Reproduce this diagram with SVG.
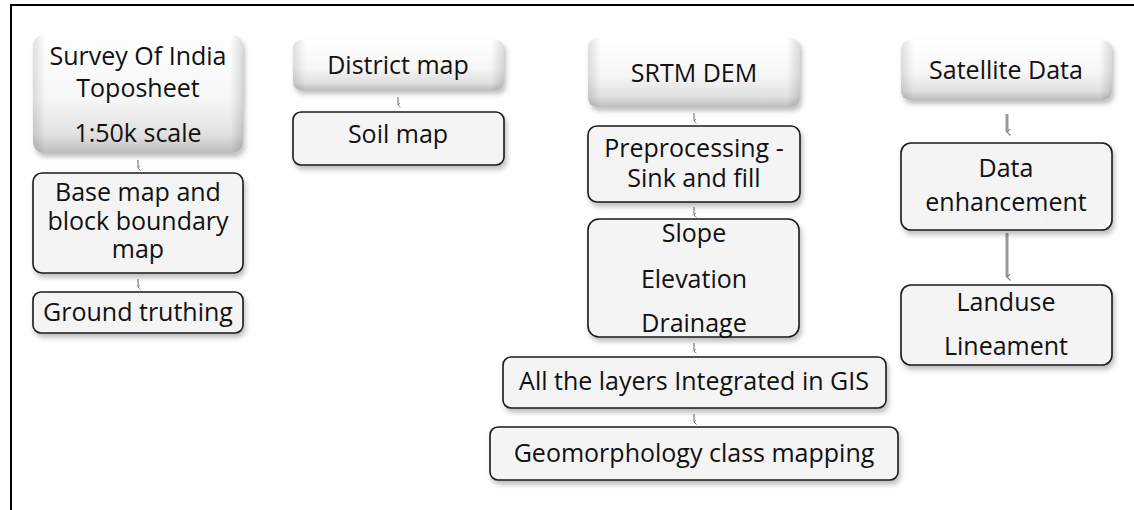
<svg xmlns="http://www.w3.org/2000/svg" width="1134" height="510" viewBox="0 0 1134 510">
<defs>
<linearGradient id="topg" x1="0" y1="0" x2="0" y2="1">
<stop offset="0" stop-color="#ffffff"/>
<stop offset="0.55" stop-color="#f6f6f6"/>
<stop offset="0.85" stop-color="#e0e0e0"/>
<stop offset="1" stop-color="#bdbdbd"/>
</linearGradient>
<linearGradient id="sideg" x1="0" y1="0" x2="1" y2="0">
<stop offset="0" stop-color="#000" stop-opacity="0.12"/>
<stop offset="0.06" stop-color="#000" stop-opacity="0"/>
<stop offset="0.94" stop-color="#000" stop-opacity="0"/>
<stop offset="1" stop-color="#000" stop-opacity="0.14"/>
</linearGradient>
<filter id="sh" x="-10%" y="-10%" width="125%" height="135%">
<feDropShadow dx="2" dy="4" stdDeviation="2.5" flood-color="#000" flood-opacity="0.25"/>
</filter>
<marker id="tip" viewBox="0 0 6 6" refX="3" refY="5" markerWidth="5" markerHeight="5" orient="auto-start-reverse" markerUnits="userSpaceOnUse">
<path d="M0,2 L3,5 L6,2" fill="none" stroke="#8a8a8a" stroke-width="1.2"/>
</marker>
<marker id="tip2" viewBox="0 0 8 8" refX="4" refY="7" markerWidth="7" markerHeight="7" orient="auto-start-reverse" markerUnits="userSpaceOnUse">
<path d="M0,3 L4,7 L8,3" fill="none" stroke="#8a8a8a" stroke-width="1.5"/>
</marker>
</defs>
<style>
.box{fill:#f4f4f4;stroke:#1a1a1a;stroke-width:1.6;filter:url(#sh)}
.top{fill:url(#topg);filter:url(#sh)}
.edge{fill:url(#sideg)}
.t{font-family:"Open Sans","Noto Sans",sans-serif;font-size:25px;fill:#111;text-anchor:middle}
.stub{stroke:#9a9a9a;stroke-width:1.5;fill:none;marker-end:url(#tip)}
.arr{stroke:#9a9a9a;stroke-width:3;fill:none;marker-end:url(#tip2)}
.frame{stroke:#000;stroke-width:2;fill:none}
</style>
<rect x="0" y="0" width="1134" height="510" fill="#fff"/>
<path class="frame" d="M11,510 L11,5 L1134,5"/>

<g id="connectors">
<line class="stub" x1="138" y1="160" x2="138" y2="168"/>
<line class="stub" x1="138" y1="279" x2="138" y2="287"/>
<line class="stub" x1="398" y1="97" x2="398" y2="105"/>
<line class="stub" x1="694" y1="113" x2="694" y2="121"/>
<line class="stub" x1="694" y1="207" x2="694" y2="215"/>
<line class="stub" x1="694" y1="343" x2="694" y2="351"/>
<line class="stub" x1="694" y1="414" x2="694" y2="422"/>
<line class="arr" x1="1007" y1="114" x2="1007" y2="132"/>
<line class="arr" x1="1007" y1="233" x2="1007" y2="277"/>
</g>

<g id="survey">
<rect class="top" x="33" y="35" width="210" height="118" rx="11"/>
<rect class="edge" x="33" y="35" width="210" height="118" rx="11"/>
<text class="t" x="138" y="65">Survey Of India</text>
<text class="t" x="138" y="97">Toposheet</text>
<text class="t" x="138" y="142">1:50k scale</text>
</g>
<g id="basemap">
<rect class="box" x="33" y="173" width="210" height="100" rx="9"/>
<text class="t" x="138" y="201">Base map and</text>
<text class="t" x="138" y="230">block boundary</text>
<text class="t" x="138" y="258">map</text>
</g>
<g id="ground">
<rect class="box" x="33" y="292" width="210" height="41" rx="8"/>
<text class="t" x="138" y="321">Ground truthing</text>
</g>

<g id="district">
<rect class="top" x="293" y="40" width="211" height="50" rx="8"/>
<rect class="edge" x="293" y="40" width="211" height="50" rx="8"/>
<text class="t" x="398" y="74">District map</text>
</g>
<g id="soil">
<rect class="box" x="293" y="112" width="211" height="53" rx="8"/>
<text class="t" x="398" y="143">Soil map</text>
</g>

<g id="srtm">
<rect class="top" x="588" y="38" width="212" height="69" rx="9"/>
<rect class="edge" x="588" y="38" width="212" height="69" rx="9"/>
<text class="t" x="694" y="82">SRTM DEM</text>
</g>
<g id="preproc">
<rect class="box" x="588" y="126" width="212" height="76" rx="9"/>
<text class="t" x="694" y="157">Preprocessing -</text>
<text class="t" x="694" y="187">Sink and fill</text>
</g>
<g id="slope">
<rect class="box" x="588" y="219" width="211" height="118" rx="11"/>
<text class="t" x="694" y="242">Slope</text>
<text class="t" x="694" y="288">Elevation</text>
<text class="t" x="694" y="332">Drainage</text>
</g>
<g id="layers">
<rect class="box" x="503" y="357" width="383" height="51" rx="8"/>
<text class="t" x="694" y="390">All the layers Integrated in GIS</text>
</g>
<g id="geomorph">
<rect class="box" x="490" y="427" width="408" height="53" rx="8"/>
<text class="t" x="694" y="462">Geomorphology class mapping</text>
</g>

<g id="satellite">
<rect class="top" x="901" y="40" width="211" height="60" rx="9"/>
<rect class="edge" x="901" y="40" width="211" height="60" rx="9"/>
<text class="t" x="1006" y="79">Satellite Data</text>
</g>
<g id="enhance">
<rect class="box" x="901" y="143" width="211" height="87" rx="10"/>
<text class="t" x="1006" y="177">Data</text>
<text class="t" x="1006" y="211">enhancement</text>
</g>
<g id="landuse">
<rect class="box" x="901" y="285" width="211" height="80" rx="10"/>
<text class="t" x="1006" y="311">Landuse</text>
<text class="t" x="1006" y="355">Lineament</text>
</g>
</svg>
